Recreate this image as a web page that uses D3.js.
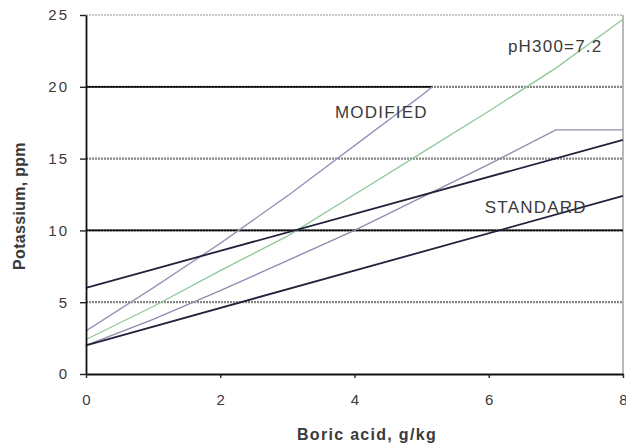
<!doctype html>
<html>
<head>
<meta charset="utf-8">
<script src="https://d3js.org/d3.v7.min.js"></script>
<style>
  body { margin: 0; background: #fff; }
  text { font-family: "Liberation Sans", Arial, sans-serif; fill: #3a3a3a; }
</style>
</head>
<body>
<div id="chart"></div>
<script>
// values
var boric = [0, 1, 2, 3, 4, 5, 6, 7, 8];
var modified = [3, 6.0, 9.1, 12.4, 15.9, 19.4];       // x 0..5, then ends at 5.16
var modifiedEnd = [5.16, 20];
var ph72 = [2.4, 4.7, 7.2, 9.6, 12.5, 15.4, 18.3, 21.3, 24.7];
var capped = [2, 3.8, 5.8, 7.9, 10, 12.3, 14.6, 17, 17];
var upperLinear = [[0, 6], [8, 16.3]];
var standard = [[0, 2], [8, 12.4]];
var refLines = [{y: 10, x0: 0, x1: 8}, {y: 20, x0: 0, x1: 5.16}];
var yTicks = [0, 5, 10, 15, 20, 25];
var xTicks = [0, 2, 4, 6, 8];
var labels = [
  {text: "pH300=7.2", x: 6.99, y: 22.4},
  {text: "MODIFIED", x: 4.4, y: 17.8},
  {text: "STANDARD", x: 6.7, y: 11.2}
];

var W = 626, H = 445;
var svg = d3.select("#chart").append("svg").attr("width", W).attr("height", H);

var x = d3.scaleLinear().domain([0, 8]).range([86, 623]);
var y = d3.scaleLinear().domain([0, 25]).range([374, 15]);

// gridlines
svg.append("g").selectAll("line")
  .data([5, 10, 15, 20])
  .enter().append("line")
  .attr("x1", x(0)).attr("x2", x(8))
  .attr("y1", function(d) { return y(d); }).attr("y2", function(d) { return y(d); })
  .attr("stroke", "#858585").attr("stroke-width", 2.2).attr("stroke-dasharray", "2,1");

// top border (25) and right border
svg.append("line").attr("x1", x(0)).attr("x2", x(8)).attr("y1", y(25)).attr("y2", y(25))
  .attr("stroke", "#b8b8b8").attr("stroke-width", 1.6).attr("stroke-dasharray", "2,1");
svg.append("line").attr("x1", x(8)).attr("x2", x(8)).attr("y1", y(25)).attr("y2", y(0))
  .attr("stroke", "#a8a8a8").attr("stroke-width", 1.6);

// black reference lines
svg.append("g").selectAll("line")
  .data(refLines)
  .enter().append("line")
  .attr("x1", function(d) { return x(d.x0); }).attr("x2", function(d) { return x(d.x1); })
  .attr("y1", function(d) { return y(d.y); }).attr("y2", function(d) { return y(d.y); })
  .attr("stroke", "#111").attr("stroke-width", 1.8);

var line = d3.line().x(function(d) { return x(d[0]); }).y(function(d) { return y(d[1]); });

function pairs(vals) {
  return vals.map(function(v, i) { return [boric[i], v]; });
}

var modPts = pairs(modified).concat([modifiedEnd]);

svg.append("path").datum(modPts).attr("d", line)
  .attr("fill", "none").attr("stroke", "#9c94b8").attr("stroke-width", 1.4);
svg.append("path").datum(pairs(ph72)).attr("d", line)
  .attr("fill", "none").attr("stroke", "#8fc99a").attr("stroke-width", 1.3);
svg.append("path").datum(pairs(capped)).attr("d", line)
  .attr("fill", "none").attr("stroke", "#948aae").attr("stroke-width", 1.4);
svg.append("path").datum(upperLinear).attr("d", line)
  .attr("fill", "none").attr("stroke", "#22223a").attr("stroke-width", 1.8);
svg.append("path").datum(standard).attr("d", line)
  .attr("fill", "none").attr("stroke", "#22223a").attr("stroke-width", 1.8);

// axes
var yAxis = svg.append("g").attr("transform", "translate(" + x(0) + ",0)")
  .call(d3.axisLeft(y).tickValues(yTicks).tickSize(6).tickPadding(11).tickSizeOuter(0));
var xAxis = svg.append("g").attr("transform", "translate(0," + y(0) + ")")
  .call(d3.axisBottom(x).tickValues(xTicks).tickSize(4).tickPadding(16).tickSizeOuter(0));

[yAxis, xAxis].forEach(function(g) {
  g.select(".domain").attr("stroke", "#111").attr("stroke-width", 1.8);
  g.selectAll(".tick line").attr("stroke", "#222").attr("stroke-width", 1.4);
  g.selectAll(".tick text").attr("font-size", 15).attr("letter-spacing", "2px")
    .attr("fill", "#444").style("font-family", "'Liberation Sans', Arial, sans-serif");
});
xAxis.selectAll(".tick text").attr("dx", "1px");

// series labels
svg.append("g").selectAll("text")
  .data(labels)
  .enter().append("text")
  .attr("x", function(d) { return x(d.x); })
  .attr("y", function(d) { return y(d.y); })
  .attr("text-anchor", "middle")
  .attr("font-size", 17)
  .attr("letter-spacing", "1.2px")
  .attr("fill", "#333")
  .text(function(d) { return d.text; });

// axis titles
svg.append("text")
  .attr("x", 367).attr("y", 440)
  .attr("text-anchor", "middle")
  .attr("font-size", 16).attr("font-weight", "bold").attr("letter-spacing", "1.3px")
  .attr("fill", "#333")
  .text("Boric acid, g/kg");

svg.append("text")
  .attr("transform", "translate(25,206) rotate(-90)")
  .attr("text-anchor", "middle")
  .attr("font-size", 16).attr("font-weight", "bold").attr("letter-spacing", "0.3px")
  .attr("fill", "#333")
  .text("Potassium, ppm");
</script>
</body>
</html>
